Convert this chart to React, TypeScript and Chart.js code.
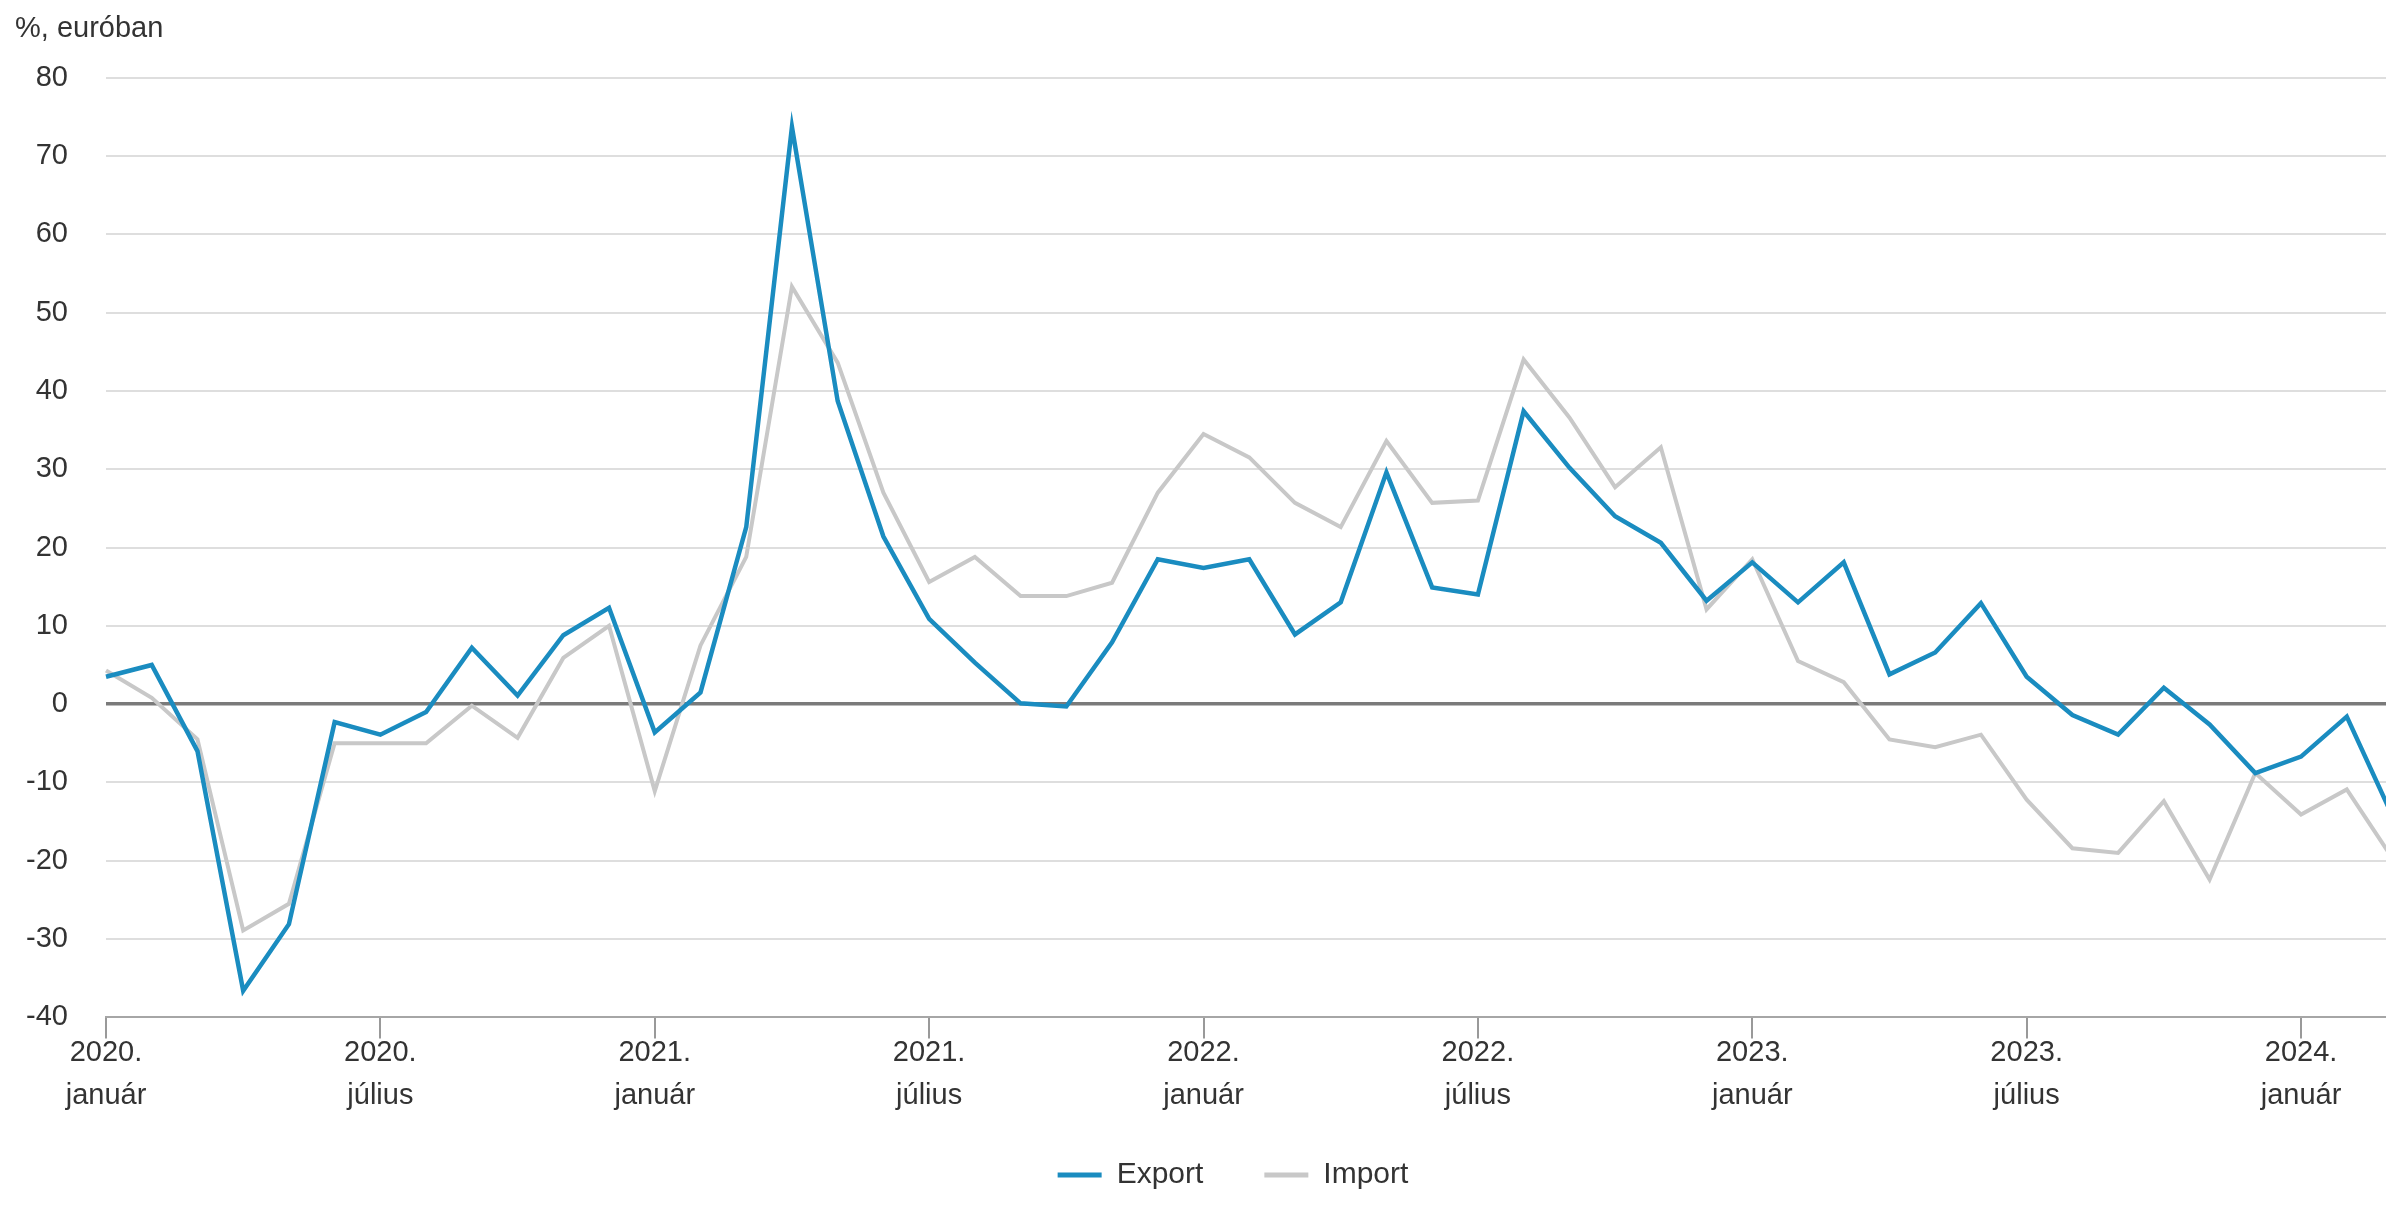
import React, { useEffect, useRef } from 'react';
import { Chart, registerables } from 'chart.js';

Chart.register(...registerables);

const FONT = '"Liberation Sans", Arial, sans-serif';

const unitLabel = '%, euróban';
const seriesNames = ['Export', 'Import'];

const categories = [
  '2020. január', '2020. február', '2020. március', '2020. április', '2020. május', '2020. június',
  '2020. július', '2020. augusztus', '2020. szeptember', '2020. október', '2020. november', '2020. december',
  '2021. január', '2021. február', '2021. március', '2021. április', '2021. május', '2021. június',
  '2021. július', '2021. augusztus', '2021. szeptember', '2021. október', '2021. november', '2021. december',
  '2022. január', '2022. február', '2022. március', '2022. április', '2022. május', '2022. június',
  '2022. július', '2022. augusztus', '2022. szeptember', '2022. október', '2022. november', '2022. december',
  '2023. január', '2023. február', '2023. március', '2023. április', '2023. május', '2023. június',
  '2023. július', '2023. augusztus', '2023. szeptember', '2023. október', '2023. november', '2023. december',
  '2024. január', '2024. február', '2024. március',
];

const exportValues = [
  3.5, 5.0, -6.0, -36.6, -28.1, -2.3, -3.9, -1.0, 7.2, 1.1, 8.8, 12.3,
  -3.6, 1.5, 22.6, 73.7, 38.7, 21.4, 10.9, 5.3, 0.1, -0.3, 7.9, 18.5,
  17.4, 18.5, 8.9, 13.0, 29.6, 14.9, 14.0, 37.4, 30.2, 24.0, 20.6, 13.2,
  18.1, 13.0, 18.1, 3.8, 6.6, 12.9, 3.5, -1.4, -3.9, 2.1, -2.6, -8.8,
  -6.7, -1.6, -14.3,
];

const importValues = [
  4.3, 0.8, -4.5, -28.9, -25.5, -5.0, -5.0, -5.0, -0.2, -4.3, 5.9, 10.0,
  -11.1, 7.5, 18.8, 53.3, 43.6, 27.0, 15.6, 18.8, 13.8, 13.8, 15.5, 27.0,
  34.5, 31.5, 25.7, 22.6, 33.6, 25.7, 26.0, 44.0, 36.6, 27.7, 32.8, 12.1,
  18.5, 5.5, 2.8, -4.5, -5.5, -3.9, -12.2, -18.4, -19.0, -12.4, -22.4, -8.8,
  -14.1, -10.9, -19.7,
];

const yMin = -40;
const yMax = 80;
const yStep = 10;
const shownMonths = ['január', 'július'];

const exportColor = '#1a8cc0';
const importColor = '#c8c8c8';

// shifts the legend box so it sits where the original page centred it
const legendShift = {
  id: 'legendShift',
  afterLayout(chart: any) {
    const l = chart.legend;
    if (!l) return;
    l.left += 36.75;
    l.right += 36.75;
    l.top -= 13.4;
    l.bottom -= 13.4;
  },
};

export default function App() {
  const ref = useRef<HTMLCanvasElement>(null);

  useEffect(() => {
    if (!ref.current) return;
    Chart.defaults.font.family = FONT;
    const chart = new Chart(ref.current, {
      type: 'line',
      data: {
        labels: categories,
        datasets: [
          {
            label: seriesNames[0],
            data: exportValues,
            borderColor: exportColor,
            backgroundColor: exportColor,
            borderWidth: 4.5,
            pointRadius: 0,
            pointHoverRadius: 0,
            tension: 0,
            order: 0,
          },
          {
            label: seriesNames[1],
            data: importValues,
            borderColor: importColor,
            backgroundColor: importColor,
            borderWidth: 4,
            pointRadius: 0,
            pointHoverRadius: 0,
            tension: 0,
            order: 1,
          },
        ],
      },
      plugins: [legendShift],
      options: {
        responsive: false,
        animation: false,
        layout: { padding: { left: 0, right: 7.5, top: 77.6, bottom: 6.6 } },
        plugins: {
          tooltip: { enabled: false },
          title: { display: false },
          legend: {
            position: 'bottom',
            labels: {
              boxWidth: 44,
              boxHeight: 5,
              padding: 61,
              color: '#333',
              font: { size: 30, family: FONT },
              generateLabels: (c: any) =>
                (Chart.defaults.plugins.legend.labels as any)
                  .generateLabels(c)
                  .map((l: any) => ({ ...l, lineWidth: 0 })),
            },
          },
        },
        scales: {
          x: {
            type: 'category',
            offset: false,
            grid: {
              drawOnChartArea: false,
              drawTicks: true,
              tickLength: 21,
              lineWidth: 2,
              color: (c: any) => {
                const lab = categories[c.index] || '';
                const mo = lab.split(' ')[1];
                return shownMonths.includes(mo) ? '#999' : 'rgba(0,0,0,0)';
              },
            },
            border: { display: true, color: '#a6a6a6', width: 2 },
            ticks: {
              autoSkip: false,
              maxRotation: 0,
              minRotation: 0,
              padding: -6.5,
              color: '#333',
              font: { size: 29, lineHeight: 1.48, family: FONT },
              callback: (_v: any, i: number) => {
                const lab = categories[i] || '';
                const [yr, mo] = lab.split(' ');
                return shownMonths.includes(mo) ? [yr, mo] : '';
              },
            },
            afterFit: (s: any) => {
              s.height = 95;
            },
          },
          y: {
            min: yMin,
            max: yMax,
            ticks: {
              stepSize: yStep,
              padding: 38,
              color: '#333',
              font: { size: 29, family: FONT },
            },
            grid: {
              drawTicks: false,
              color: (c: any) => (c.tick && c.tick.value === 0 ? '#7a7a7a' : '#dedede'),
              lineWidth: (c: any) => (c.tick && c.tick.value === 0 ? 3.5 : 2),
            },
            border: { display: false },
            afterFit: (s: any) => {
              s.width = 106;
            },
          },
        },
      },
    } as any);
    return () => chart.destroy();
  }, []);

  return (
    <div
      style={{
        position: 'fixed',
        left: 0,
        top: 0,
        width: 2386,
        height: 1210,
        overflow: 'hidden',
        background: '#fff',
      }}
    >
      <canvas
        ref={ref}
        width={2400}
        height={1220}
        style={{ display: 'block', width: 2400, height: 1220 }}
      />
      <div
        style={{
          position: 'absolute',
          left: 15,
          top: 12,
          fontFamily: FONT,
          fontSize: 29,
          lineHeight: '30px',
          color: '#333',
          whiteSpace: 'nowrap',
        }}
      >
        {unitLabel}
      </div>
    </div>
  );
}
